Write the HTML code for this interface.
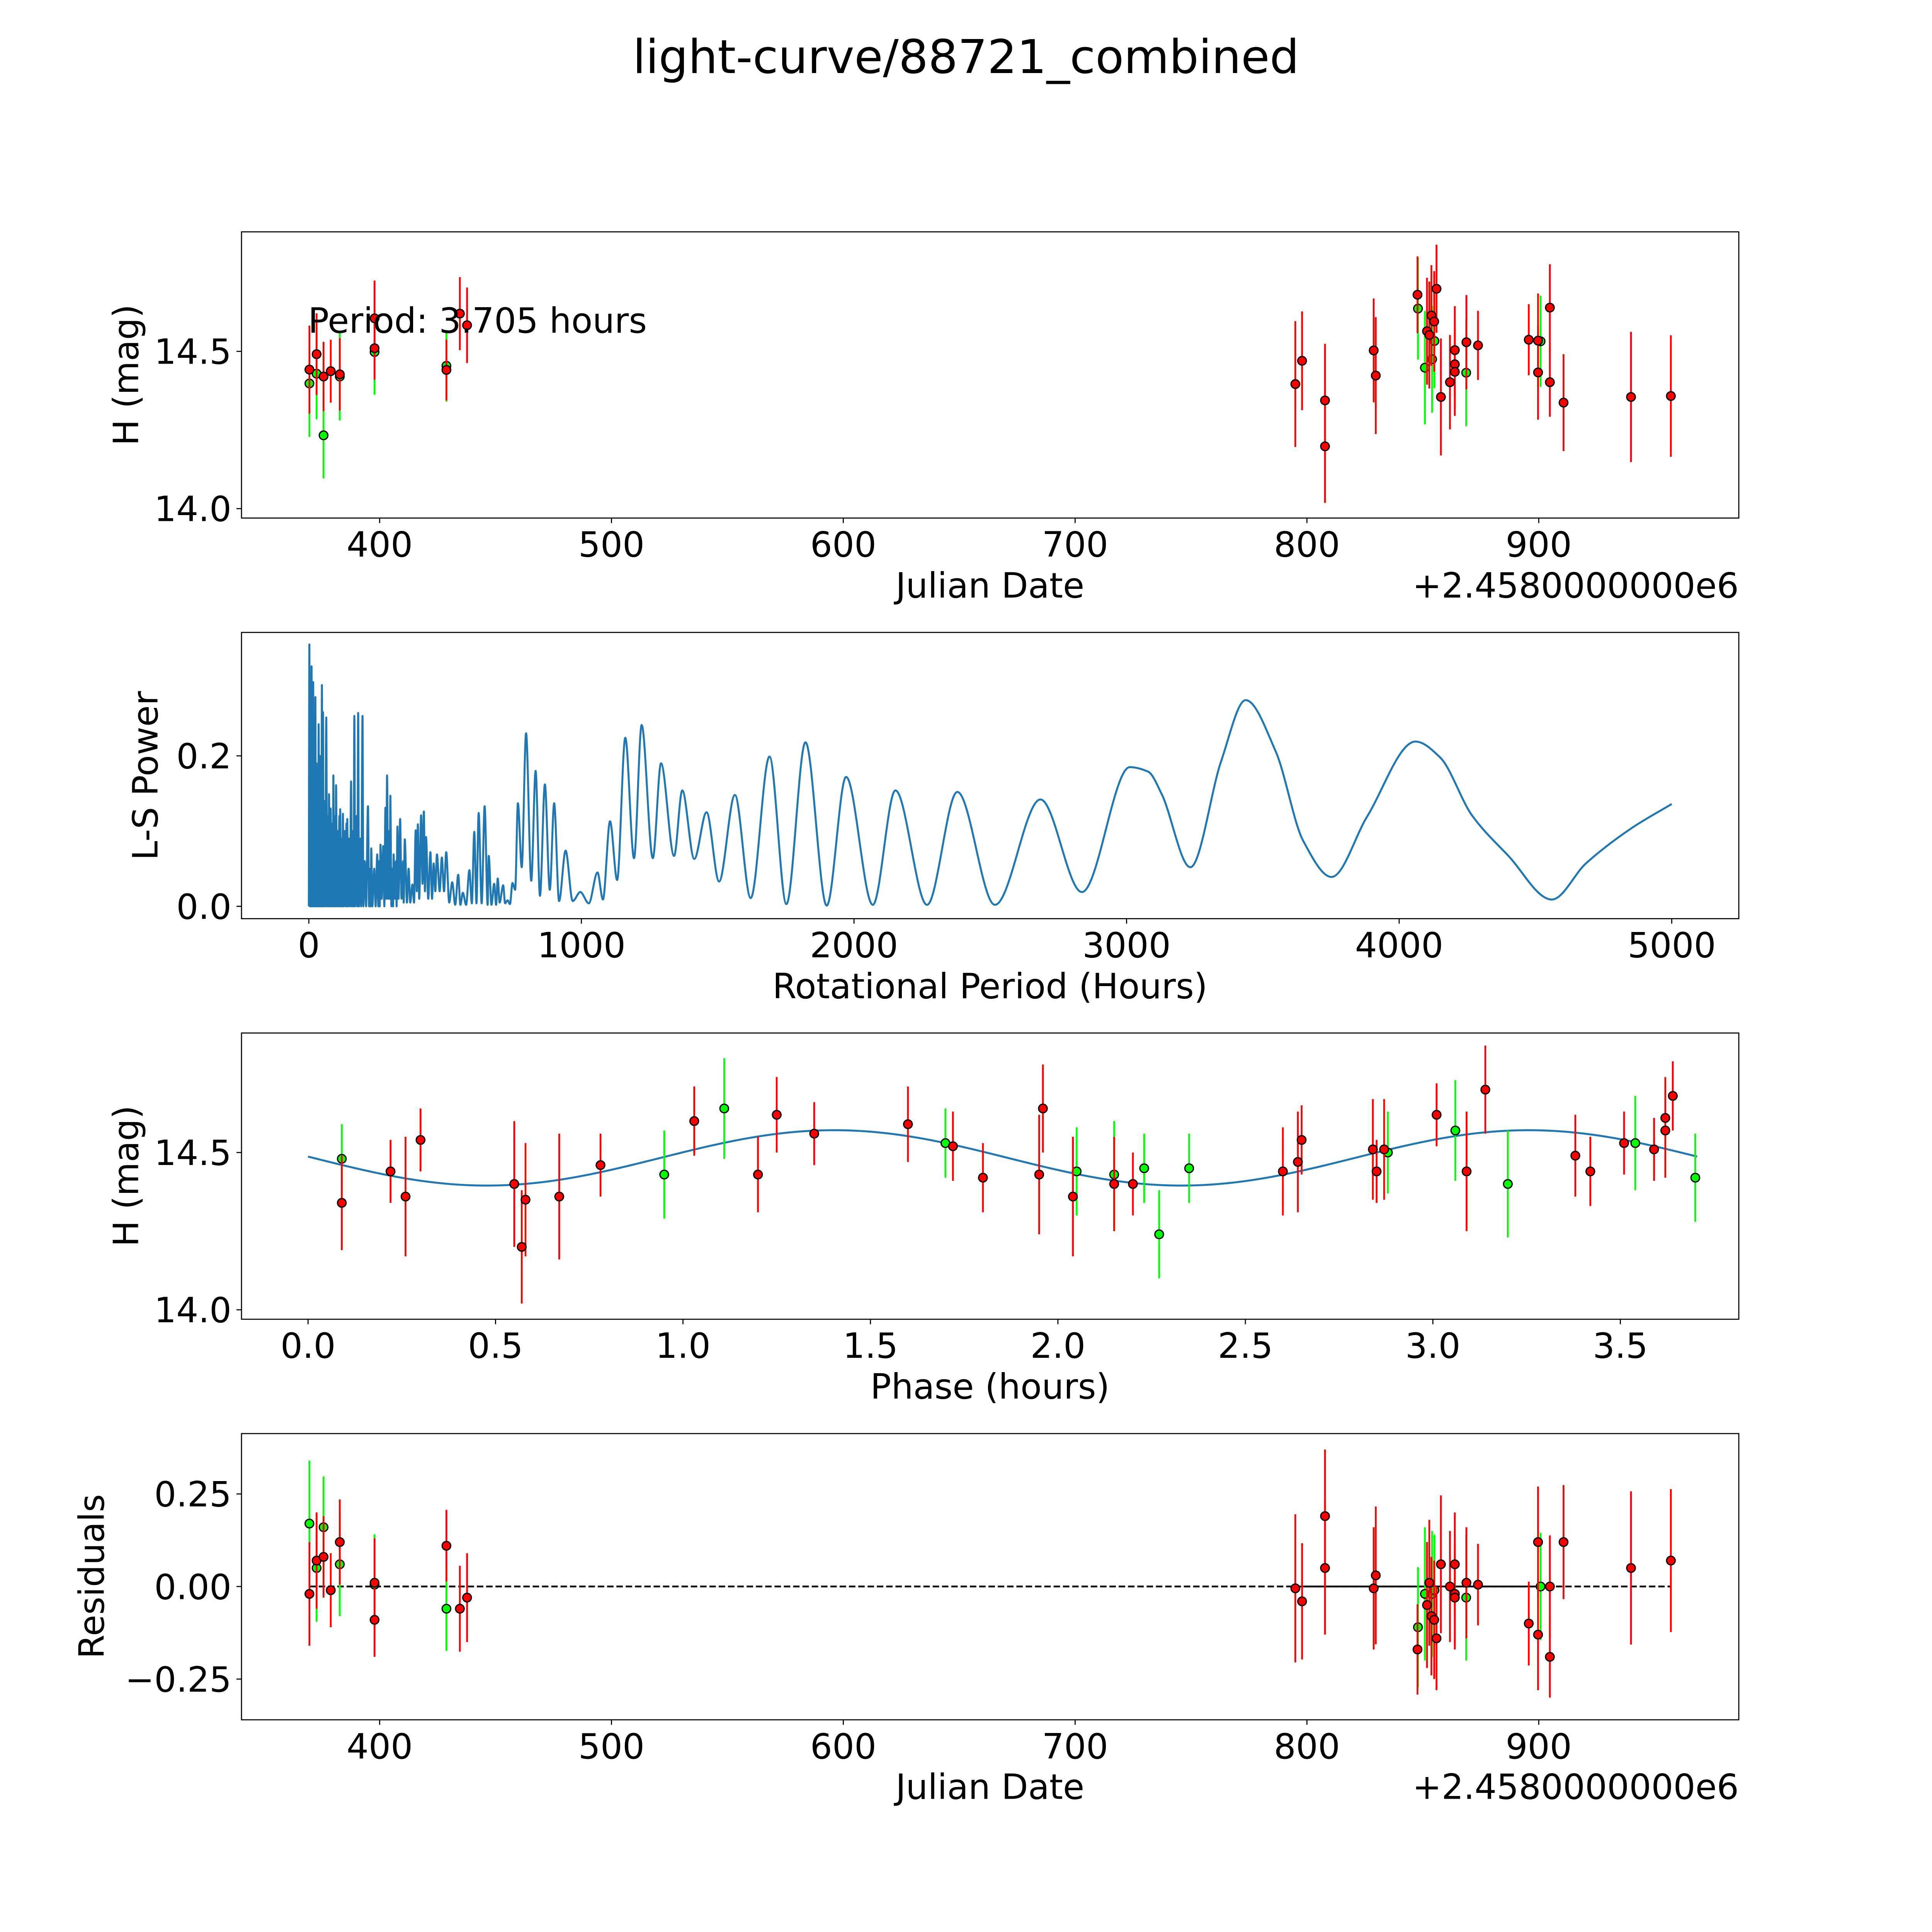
<!DOCTYPE html>
<html><head><meta charset="utf-8"><style>
html,body{margin:0;padding:0;background:#fff;overflow:hidden;width:100%;height:100%}
svg{display:block;position:fixed;left:0;top:0;width:100vw;height:100vh}
text{font-family:"DejaVu Sans","Liberation Sans",sans-serif;fill:#000}
</style></head><body>
<svg id="fig" viewBox="0 0 5400 5400" preserveAspectRatio="none" xmlns="http://www.w3.org/2000/svg">
<rect width="5400" height="5400" fill="#fff"/>
<text x="2700" y="204" font-size="130" text-anchor="middle">light-curve/88721_combined</text>
</svg>
<script>
// ---------- data ----------
const redJD = [369.7,372.8,375.8,378.9,382.8,397.8,397.8,428.8,434.6,437.7,795.0,797.9,807.8,807.8,828.8,829.7,847.7,851.8,852.8,853.7,854.9,855.9,857.8,861.7,863.8,863.8,863.8,868.8,873.8,895.7,899.7,899.7,904.8,904.8,910.7,939.8,957.0];
const redH = [14.442,14.491,14.42,14.437,14.427,14.605,14.51,14.441,14.62,14.583,14.396,14.47,14.344,14.198,14.503,14.423,14.68,14.564,14.552,14.614,14.595,14.699,14.355,14.402,14.504,14.459,14.435,14.529,14.519,14.537,14.534,14.433,14.639,14.402,14.337,14.355,14.358];
const redErr = [0.14,0.13,0.11,0.10,0.115,0.12,0.10,0.097,0.116,0.12,0.2,0.157,0.18,0.18,0.165,0.186,0.122,0.17,0.17,0.16,0.16,0.14,0.186,0.15,0.14,0.14,0.14,0.15,0.11,0.113,0.15,0.15,0.138,0.11,0.154,0.207,0.193];
const greenJD = [369.7,372.8,375.8,382.8,397.8,428.8,847.9,850.9,854.0,855.0,868.7,900.8];
const greenH = [14.398,14.429,14.233,14.42,14.498,14.454,14.636,14.448,14.475,14.533,14.432,14.532];
const greenErr = [0.17,0.145,0.137,0.14,0.136,0.114,0.162,0.18,0.17,0.15,0.17,0.145];

const lsPeriod = [0,2,4,6,8,10,12,14,15,16,18,20,22,24,26,28,30,32,34,36,38,40,42,44,46,48,50,52,54,57,60,64,67,70,72,74,77,80,83,86,88,90,93,96,98,100,103,106,109,112,114,115,118,121,123,125,128,132,135,138,140,141,144,148,151,155,158,162,164,167,170,175,178,181,184,188,192,197,200,205,210,217,221,225,227,229,233,240,245,251,255,258,260,263,267,273,277,281,284,287,291,295,297,299,303,307,309,311,315,320,322,325,329,335,340,346,348,352,360,366,372,380,386,392,396,400,405,412,417,422,426,430,438,446,452,458,464,470,480,488,496,504,515,526,537,548,556,565,577,589,598,607,615,623,634,645,656,660,670,680,687,693,700,713,720,729,738,747,757,767,781,797,816,832,848,866,884,900,918,942,968,996,1027,1059,1079,1105,1131,1161,1193,1221,1262,1292,1340,1370,1414,1459,1505,1563,1621,1690,1752,1822,1900,1971,2069,2152,2268,2379,2517,2684,2836,3012,3079,3129,3234,3347,3437,3547,3648,3752,3882,4060,4150,4267,4401,4560,4685,4853,5000];
const lsPower = [0,0.348,0,0.30,0,0.319,0,0.2,0,0.298,0,0.22,0,0.278,0,0.19,0,0.16,0,0.242,0,0.2,0,0.15,0,0.294,0,0.258,0,0.14,0,0.251,0,0.12,0,0.149,0,0.13,0,0.11,0,0.174,0,0.12,0,0.161,0,0.1,0,0.12,0,0.129,0,0.09,0,0.123,0,0.1,0,0.11,0,0.116,0,0.09,0,0.166,0,0.1,0,0.253,0,0.12,0,0.257,0,0.09,0,0.253,0,0.06,0,0.133,0,0.05,0,0.077,0,0.05,0,0.069,0,0.06,0,0.082,0.01,0.08,0,0.131,0.01,0.174,0.01,0.1,0.01,0.147,0,0.05,0,0.069,0.01,0.06,0,0.106,0.01,0.116,0.01,0.06,0.005,0.089,0.005,0.05,0.005,0.029,0.005,0.101,0.02,0.109,0.01,0.121,0.03,0.126,0.02,0.092,0.01,0.072,0.01,0.057,0.02,0.069,0.02,0.065,0.02,0.072,0.005,0.032,0.002,0.042,0.002,0.018,0.002,0.048,0.004,0.099,0.004,0.124,0.004,0.133,0.002,0.067,0.002,0.03,0.002,0.037,0.005,0.028,0.004,0.008,0.003,0.031,0.022,0.137,0.052,0.23,0.034,0.18,0.014,0.162,0.022,0.137,0.007,0.074,0.007,0.019,0.004,0.045,0.009,0.113,0.035,0.224,0.064,0.241,0.064,0.19,0.067,0.154,0.063,0.125,0.033,0.148,0.011,0.199,0.003,0.218,0.001,0.172,0.002,0.154,0.002,0.152,0.002,0.142,0.019,0.185,0.179,0.149,0.052,0.193,0.274,0.206,0.087,0.039,0.119,0.219,0.198,0.121,0.067,0.009,0.057,0.104,0.136];

const phRedX = [0.09,0.22,0.26,0.30,0.55,0.57,0.58,0.67,0.78,1.03,1.20,1.25,1.35,1.60,1.72,1.80,1.95,1.96,2.04,2.15,2.20,2.60,2.64,2.65,2.84,2.85,2.87,3.01,3.09,3.14,3.38,3.42,3.51,3.59,3.62,3.62,3.64];
const phRedH = [14.34,14.44,14.36,14.54,14.40,14.20,14.35,14.36,14.46,14.60,14.43,14.62,14.56,14.59,14.52,14.42,14.43,14.64,14.36,14.40,14.40,14.44,14.47,14.54,14.51,14.44,14.51,14.62,14.44,14.70,14.49,14.44,14.53,14.51,14.57,14.61,14.68];
const phRedErr = [0.15,0.1,0.19,0.1,0.2,0.18,0.18,0.2,0.1,0.11,0.12,0.12,0.1,0.12,0.11,0.11,0.19,0.14,0.19,0.15,0.1,0.14,0.16,0.11,0.16,0.1,0.16,0.1,0.19,0.14,0.13,0.11,0.1,0.1,0.15,0.13,0.11];
const phGreenX = [0.09,0.95,1.11,1.70,2.05,2.15,2.23,2.27,2.35,2.88,3.06,3.20,3.54,3.70];
const phGreenH = [14.48,14.43,14.64,14.53,14.44,14.43,14.45,14.24,14.45,14.50,14.57,14.40,14.53,14.42];
const phGreenErr = [0.11,0.14,0.16,0.11,0.14,0.17,0.11,0.14,0.11,0.13,0.16,0.17,0.15,0.14];
const fitMean = 14.483, fitAmp = 0.088, fitPeriod = 1.8525, fitT0 = 0.94, foldPeriod = 3.705;

const resRed = [-0.02,0.07,0.08,-0.01,0.12,0.01,-0.09,0.11,-0.06,-0.03,-0.005,-0.04,0.19,0.05,-0.005,0.03,-0.17,-0.05,0.01,-0.08,-0.09,-0.14,0.06,0.0,0.06,-0.02,-0.03,0.01,0.005,-0.10,0.12,-0.13,0.0,-0.19,0.12,0.05,0.07];
const resGreen = [0.17,0.05,0.16,0.06,0.005,-0.06,-0.11,-0.02,-0.02,-0.01,-0.03,0.0];

const jdTicks = [400,500,600,700,800,900];
const hTicks = [14.0,14.5];
const lsXTicks = [0,1000,2000,3000,4000,5000];
const lsYTicks = [0.0,0.2];
const phXTicks = [0.0,0.5,1.0,1.5,2.0,2.5,3.0,3.5];
const resTicks = [-0.25,0.0,0.25];

// ---------- drawing ----------
const NS = "http://www.w3.org/2000/svg";
const svg = document.getElementById('fig');
function mk(tag, attrs, parent){const e=document.createElementNS(NS,tag);for(const k in attrs)e.setAttribute(k,attrs[k]);(parent||svg).appendChild(e);return e;}
const L=675,R=4860,H=800;
const tops=[648,1767.7,2887.3,4006.9];
function axis(i,xmin,xmax,ymin,ymax){const t=tops[i];return{t,b:t+H,sx:v=>L+(v-xmin)/(xmax-xmin)*(R-L),sy:v=>t+H-(v-ymin)/(ymax-ymin)*H};}
const A1=axis(0,340.4,986.3,13.97,14.88);
const A2=axis(1,-247,5246,-0.0164,0.364);
const A3=axis(2,-0.1775,3.816,13.97,14.88);
const A4=axis(3,340.4,986.3,-0.36,0.413);

function frame(A,name){
  const g=mk('g',{});
  
  
  mk('rect',{x:L,y:A.t,width:R-L,height:H,fill:'none',stroke:'#000','stroke-width':3},g);
}
function xticks(A,ticks,fmt,name){
  ticks.forEach(v=>{const x=A.sx(v);
    mk('line',{x1:x,y1:A.b,x2:x,y2:A.b+14,stroke:'#000','stroke-width':3});
    const t=mk('text',{x:x,y:A.b+108,'font-size':97,'text-anchor':'middle'});t.textContent=fmt(v);
    
    
  });
}
function yticks(A,ticks,fmt,name){
  ticks.forEach(v=>{const y=A.sy(v);
    mk('line',{x1:L,y1:y,x2:L-14,y2:y,stroke:'#000','stroke-width':3});
    const t=mk('text',{x:L-28,y:y+35,'font-size':97,'text-anchor':'end'});t.textContent=fmt(v);
    
    
  });
}
function label(x,y,txt,rot,name,anchor){
  const t=mk('text',{x:x,y:y,'font-size':97,'text-anchor':anchor||'middle'});
  if(rot)t.setAttribute('transform','rotate(-90 '+x+' '+y+')');
  t.textContent=txt;
  
  
}
function errpts(A,xs,ys,es,col,name){
  const g=mk('g',{});
  
  
  xs.forEach((x,i)=>{const px=A.sx(x);
    mk('line',{x1:px,y1:A.sy(ys[i]-es[i]),x2:px,y2:A.sy(ys[i]+es[i]),stroke:col,'stroke-width':5},g);});
  xs.forEach((x,i)=>{const c=mk('circle',{cx:A.sx(x),cy:A.sy(ys[i]),r:12,fill:col,stroke:'#000','stroke-width':3.5},g);
    
    });
}
const mfmt=v=>(v<0?'\u2212':'')+Math.abs(v).toFixed(2);

// panel 1
frame(A1,'light-curve');
xticks(A1,jdTicks,v=>String(v),'light-curve');
yticks(A1,hTicks,v=>v.toFixed(1),'light-curve');
errpts(A1,greenJD,greenH,greenErr,'#00ff00','green-observations');
errpts(A1,redJD,redH,redErr,'#ff0000','red-observations');
label(2767,1670,'Julian Date',false,'light-curve-x-axis-title');
label(R,1670,'+2.4580000000e6',false,'light-curve-x-offset','end');
label(386,1048,'H (mag)',true,'light-curve-y-axis-title');
label(861,930,'Period: 3.705 hours',false,'period-annotation','start');

// panel 2
frame(A2,'periodogram');
xticks(A2,lsXTicks,v=>String(v),'periodogram');
yticks(A2,lsYTicks,v=>v.toFixed(1),'periodogram');
(function(){
  const xs=lsPeriod.map(A2.sx), ys=lsPower.map(A2.sy), n=xs.length;
  const d=[],m=[];
  for(let i=0;i<n-1;i++)d.push((ys[i+1]-ys[i])/(xs[i+1]-xs[i]));
  for(let i=0;i<n;i++){
    if(i==0)m.push(d[0]);else if(i==n-1)m.push(d[n-2]);
    else if(d[i-1]*d[i]<=0)m.push(0);else m.push(2/(1/d[i-1]+1/d[i]));
  }
  let p='M'+xs[0]+','+ys[0];
  for(let i=0;i<n-1;i++){const h=xs[i+1]-xs[i];
    p+='C'+(xs[i]+h/3)+','+(ys[i]+m[i]*h/3)+' '+(xs[i+1]-h/3)+','+(ys[i+1]-m[i+1]*h/3)+' '+xs[i+1]+','+ys[i+1];}
  const e=mk('path',{d:p,fill:'none',stroke:'#1f77b4','stroke-width':5.5,'stroke-linejoin':'round'});
  
  
})();
label(2767,2790,'Rotational Period (Hours)',false,'periodogram-x-axis-title');
label(440,2168,'L-S Power',true,'periodogram-y-axis-title');

// panel 3
frame(A3,'phase-curve');
xticks(A3,phXTicks,v=>v.toFixed(1),'phase-curve');
yticks(A3,hTicks,v=>v.toFixed(1),'phase-curve');
(function(){
  let p='';
  for(let i=0;i<=300;i++){const x=foldPeriod*i/300;
    const y=fitMean+fitAmp*Math.sin(2*Math.PI*(x-fitT0)/fitPeriod);
    p+=(i?'L':'M')+A3.sx(x)+','+A3.sy(y);}
  const e=mk('path',{d:p,fill:'none',stroke:'#1f77b4','stroke-width':5.5});
  
  
})();
errpts(A3,phGreenX,phGreenH,phGreenErr,'#00ff00','phase-green-observations');
errpts(A3,phRedX,phRedH,phRedErr,'#ff0000','phase-red-observations');
label(2767,3909,'Phase (hours)',false,'phase-x-axis-title');
label(386,3287,'H (mag)',true,'phase-y-axis-title');

// panel 4
frame(A4,'residuals');
xticks(A4,jdTicks,v=>String(v),'residuals');
yticks(A4,resTicks,mfmt,'residuals');
(function(){
  const y=A4.sy(0);
  const s=mk('line',{x1:A4.sx(794),y1:y,x2:A4.sx(903),y2:y,stroke:'#000','stroke-width':5});
  
  
  const d=mk('line',{x1:A4.sx(369.7),y1:y,x2:A4.sx(957),y2:y,stroke:'#000','stroke-width':5,'stroke-dasharray':'18 8'});
  
  
})();
errpts(A4,greenJD,resGreen,greenErr,'#00ff00','residual-green-observations');
errpts(A4,redJD,resRed,redErr,'#ff0000','residual-red-observations');
label(2767,5028,'Julian Date',false,'residuals-x-axis-title');
label(R,5028,'+2.4580000000e6',false,'residuals-x-offset','end');
label(290,4406,'Residuals',true,'residuals-y-axis-title');
</script>
</body></html>
